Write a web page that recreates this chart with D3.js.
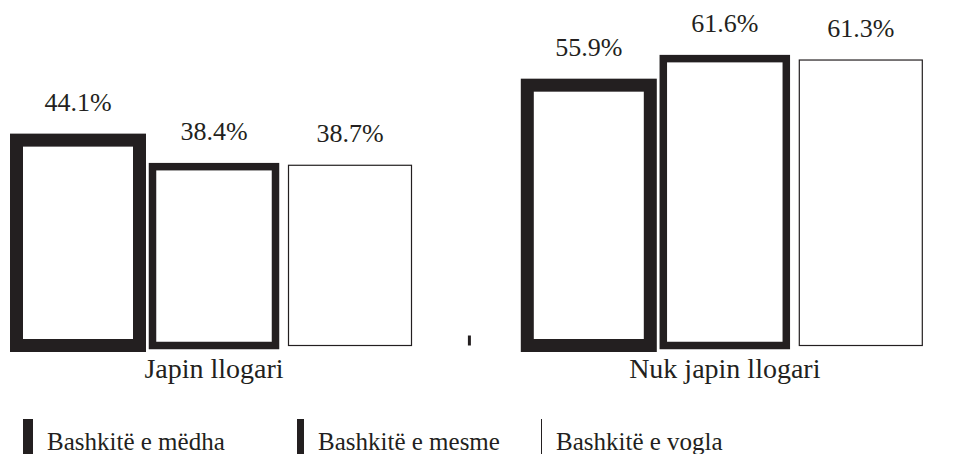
<!DOCTYPE html>
<html>
<head>
<meta charset="utf-8">
<script src="https://cdn.jsdelivr.net/npm/d3@7"></script>
<style>
  body { margin: 0; background: #fff; }
  text { font-family: "Liberation Serif", "DejaVu Serif", serif; fill: #231f20; }
</style>
</head>
<body>
<div class="canvas"></div>
<script>
// data
const groups = ["Japin llogari", "Nuk japin llogari"];
const series = ["Bashkitë e mëdha", "Bashkitë e mesme", "Bashkitë e vogla"];
const values = [
  [44.1, 38.4, 38.7],
  [55.9, 61.6, 61.3]
];

const dims = {width : 973, height: 454};
const ink = "#231f20";
const strokeW = [13, 7.5, 1.2];
const legendW = [10, 7, 1];
const legendX = [23, 297, 541];

const svg = d3.select(".canvas")
              .append("svg")
              .attr("width", dims.width)
              .attr("height", dims.height);

const x0 = d3.scaleBand().domain(groups).range([16.5, 922.3]).paddingInner(0.2267).paddingOuter(0);
const x1 = d3.scaleBand().domain(series).range([0, x0.bandwidth()]).paddingInner(0.0956).paddingOuter(0);
const y = d3.scaleLinear().domain([0, 100]).range([345.5, -120.2]);

const rows = groups.flatMap((g, gi) => series.map((s, si) => ({group: g, name: s, i: si, value: values[gi][si]})));

const graph = svg.append("g");

//bars: outline only, stroke centered on the edge
graph.selectAll("rect.bar")
  .data(rows)
  .enter()
  .append("rect")
  .attr("class", "bar")
  .attr("x", d => x0(d.group) + x1(d.name))
  .attr("y", d => y(d.value))
  .attr("width", x1.bandwidth())
  .attr("height", d => y(0) - y(d.value))
  .attr("fill", "#fff")
  .attr("stroke", ink)
  .attr("stroke-width", d => strokeW[d.i]);

//value labels
graph.selectAll("text.val")
  .data(rows)
  .enter()
  .append("text")
  .attr("class", "val")
  .attr("x", d => x0(d.group) + x1(d.name) + x1.bandwidth()/2)
  .attr("y", d => y(d.value) - strokeW[d.i]/2 - 22.5)
  .attr("text-anchor", "middle")
  .attr("font-size", 26)
  .text(d => d.value.toFixed(1) + "%");

//category labels
graph.selectAll("text.cat")
  .data(groups)
  .enter()
  .append("text")
  .attr("class", "cat")
  .attr("x", d => x0(d) + x0.bandwidth()/2)
  .attr("y", 377.5)
  .attr("text-anchor", "middle")
  .attr("font-size", 28)
  .text(d => d);

//little tick between the groups
const mid = (x0(groups[0]) + x0.bandwidth() + x0(groups[1])) / 2;
graph.append("line")
  .attr("x1", mid).attr("x2", mid)
  .attr("y1", y(0)).attr("y2", y(0) - 10)
  .attr("stroke", ink)
  .attr("stroke-width", 3);

//legend
const legend = svg.append("g")
  .selectAll("g")
  .data(series)
  .enter()
  .append("g")
  .attr("transform", (d, i) => `translate(${legendX[i]}, 0)`);

legend.append("rect")
  .attr("x", 0)
  .attr("y", 419)
  .attr("width", (d, i) => legendW[i])
  .attr("height", 40)
  .attr("fill", ink);

legend.append("text")
  .attr("x", (d, i) => legendW[i] + 14)
  .attr("y", 450)
  .attr("font-size", 25)
  .text(d => d);
</script>
</body>
</html>
